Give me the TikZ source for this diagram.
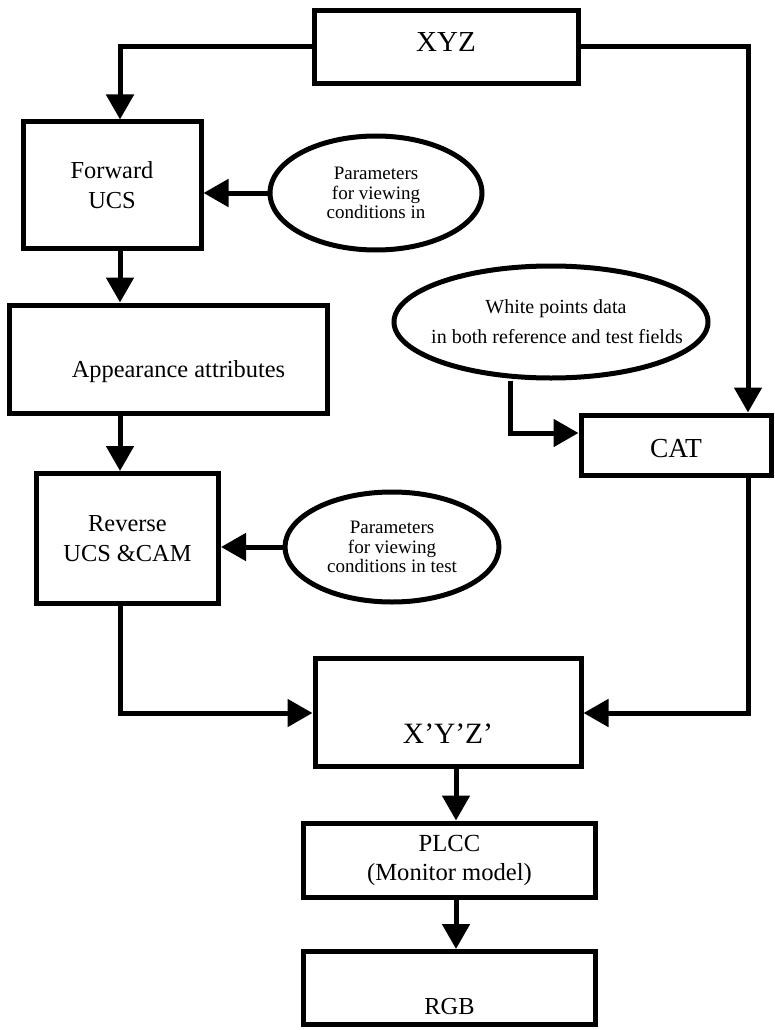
\documentclass[tikz,border=0pt]{standalone}
\usepackage{fontspec}
\setmainfont{Liberation Serif}
\usetikzlibrary{arrows.meta,shapes.geometric}
\newcommand{\shiftv}[2]{\raisebox{#1}[\height][\depth]{#2}}
\begin{document}
\begin{tikzpicture}[x=1pt,y=-1pt,
  box/.style={draw, line width=5pt, rectangle, inner sep=0pt, align=center},
  ell/.style={draw, line width=5pt, ellipse, inner sep=0pt, align=center},
  arr/.style={line width=5pt, -{Triangle[length=25pt,width=27pt]}},
  big/.style={font=\fontsize{29}{34}\selectfont},
  mid/.style={font=\fontsize{24.4}{29.5}\selectfont},
  sml/.style={font=\fontsize{19}{19.5}\selectfont}]
\useasboundingbox (0,0) rectangle (774,1030);
\fill[white] (0,0) rectangle (774,1030);

% helper coordinates for connector columns/rows
\coordinate (colL) at (120,0);
\coordinate (colR) at (748,0);
\coordinate (colM) at (510,0);
\coordinate (colB) at (456,0);
\coordinate (rowW) at (0,433);
\coordinate (rowX) at (0,713);

% boxes
\node[box, big, minimum width=264pt, minimum height=73pt] (xyz) at (446,47) {\shiftv{5pt}{XYZ}};
\node[box, mid, minimum width=178pt, minimum height=126pt] (fwd) at (112,185) {Forward\\UCS};
\node[box, mid, minimum width=318pt, minimum height=108pt] (app) at (168.5,359) {\shiftv{-13pt}{\hspace*{20pt}Appearance attributes}};
\node[box, mid, minimum width=182pt, minimum height=130pt] (rev) at (127.5,538.5) {Reverse\\UCS \&CAM};
\node[box, font=\fontsize{27.5}{32}\selectfont, minimum width=190pt, minimum height=60pt] (cat) at (676,445) {\shiftv{-4pt}{CAT}};
\node[box, font=\fontsize{29.5}{34}\selectfont, minimum width=266pt, minimum height=108pt] (xyz2) at (448,712.5) {\shiftv{-21pt}{X’Y’Z’}};
\node[box, mid, font=\fontsize{24.6}{29}\selectfont, minimum width=292pt, minimum height=74pt] (plcc) at (449.5,860) {PLCC\\(Monitor model)};
\node[box, mid, minimum width=292pt, minimum height=73pt] (rgb) at (449.5,988) {\shiftv{-19pt}{RGB}};

% ellipses
\node[ell, sml, minimum width=212pt, minimum height=114pt] (ell1) at (376,193) {Parameters\\for viewing\\conditions in};
\node[ell, sml, minimum width=214pt, minimum height=110pt] (ell2) at (392,547) {Parameters\\for viewing\\conditions in test};
\node[ell, font=\fontsize{20}{30}\selectfont, minimum width=314pt, minimum height=112pt] (ell3) at (551,322)
  {\makebox[0pt]{\hspace*{10pt}White points data}\\\makebox[0pt]{\hspace*{12pt}in both reference and test fields}};

% connectors
\draw[arr] (xyz.west) -| (fwd.north -| colL);
\draw[arr] (xyz.east) -| (cat.north -| colR);
\draw[arr] (ell1.west) -- (ell1.west -| fwd.east);
\draw[arr] (fwd.south -| colL) -- (app.north -| colL);
\draw[arr] (app.south -| colL) -- (rev.north -| colL);
\draw[arr] (ell2.west) -- (ell2.west -| rev.east);
\draw[arr] (ell3.south -| colM) |- (rowW -| cat.west);
\draw[arr] (rev.south -| colL) |- (rowX -| xyz2.west);
\draw[arr] (cat.south -| colR) |- (rowX -| xyz2.east);
\draw[arr] (xyz2.south -| colB) -- (plcc.north -| colB);
\draw[arr] (plcc.south -| colB) -- (rgb.north -| colB);
\end{tikzpicture}
\end{document}
